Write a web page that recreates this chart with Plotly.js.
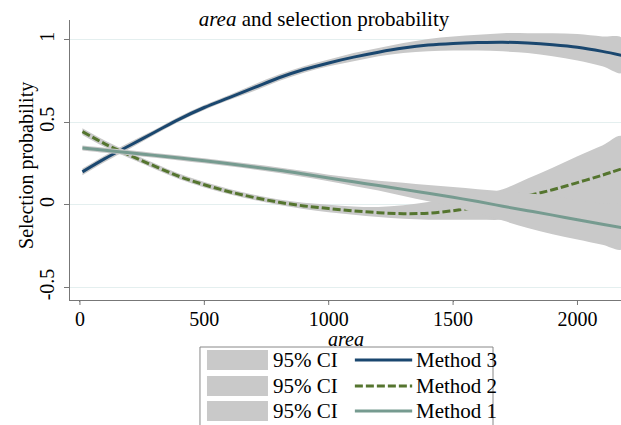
<!DOCTYPE html>
<html>
<head>
<meta charset="utf-8">
<script src="https://cdn.plot.ly/plotly-3.0.1.min.js"></script>
<style>html,body{margin:0;padding:0;background:#fff;}#chart{width:621px;height:425px;}</style>
</head>
<body>
<div id="chart"></div>
<script>
// area values (x)
const area = [10,100,200,300,400,500,600,700,800,900,1000,1100,1200,1300,1400,1500,1600,1700,1800,1900,2000,2100,2180];

// Method 3 fit and 95% CI
const m3   = [0.20,0.28,0.36,0.44,0.52,0.59,0.65,0.71,0.77,0.82,0.86,0.895,0.925,0.95,0.968,0.978,0.983,0.985,0.98,0.97,0.955,0.93,0.905];
const m3lo = [0.18,0.26,0.34,0.425,0.505,0.575,0.635,0.69,0.75,0.80,0.84,0.87,0.90,0.92,0.93,0.935,0.935,0.93,0.92,0.90,0.875,0.84,0.80];
const m3hi = [0.22,0.30,0.38,0.455,0.535,0.605,0.665,0.73,0.79,0.84,0.88,0.92,0.95,0.98,1.005,1.02,1.03,1.04,1.04,1.04,1.035,1.02,1.01];

// Method 2 fit and 95% CI
const m2   = [0.444,0.37,0.30,0.235,0.172,0.122,0.08,0.045,0.016,-0.006,-0.022,-0.036,-0.047,-0.053,-0.05,-0.035,-0.012,0.02,0.055,0.092,0.135,0.18,0.22];
const m2lo = [0.424,0.35,0.282,0.218,0.156,0.106,0.064,0.029,-0.001,-0.025,-0.045,-0.06,-0.074,-0.084,-0.09,-0.09,-0.09,-0.09,-0.08,-0.06,-0.04,-0.025,-0.02];
const m2hi = [0.464,0.39,0.318,0.252,0.188,0.138,0.096,0.061,0.033,0.013,0.001,-0.009,-0.012,-0.002,0.018,0.04,0.06,0.095,0.16,0.225,0.295,0.36,0.415];

// Method 1 fit and 95% CI
const m1   = [0.345,0.331,0.316,0.30,0.284,0.267,0.249,0.23,0.21,0.187,0.163,0.14,0.117,0.094,0.07,0.046,0.02,-0.008,-0.035,-0.062,-0.09,-0.117,-0.138];
const m1lo = [0.33,0.316,0.301,0.285,0.269,0.252,0.234,0.214,0.193,0.169,0.143,0.115,0.087,0.054,0.022,-0.01,-0.05,-0.095,-0.14,-0.177,-0.21,-0.242,-0.268];
const m1hi = [0.36,0.346,0.331,0.315,0.299,0.282,0.264,0.246,0.227,0.205,0.183,0.165,0.147,0.134,0.12,0.108,0.095,0.082,0.07,0.053,0.03,0.008,-0.008];

const xTicks = [0,500,1000,1500,2000];
const yTicks = [-0.5,0,0.5,1];
const yTickText = ['-0.5','0','0.5','1'];
const legendCI = ['95% CI','95% CI','95% CI'];
const legendNames = ['Method 3','Method 2','Method 1'];

const FONT = 'Liberation Serif, Times New Roman, serif';
const CI_COLOR = '#c9c9c9';
const colors = ['#1a476f','#55752f','#769b90'];
const dashes = ['solid','8px,3px','solid'];

function band(lo, hi) {
  return {
    x: area.concat(area.slice().reverse()),
    y: hi.concat(lo.slice().reverse()),
    type: 'scatter', mode: 'lines', fill: 'toself',
    fillcolor: CI_COLOR, line: {width: 0, color: CI_COLOR, shape: 'spline'},
    hoverinfo: 'skip', showlegend: false
  };
}
function fit(y, i) {
  return {
    x: area, y: y, type: 'scatter', mode: 'lines',
    line: {color: colors[i], width: 3, dash: dashes[i], shape: 'spline'},
    showlegend: false, hoverinfo: 'skip'
  };
}

const data = [
  band(m3lo, m3hi), fit(m3, 0),
  band(m2lo, m2hi), fit(m2, 1),
  band(m1lo, m1hi), fit(m1, 2)
];

const shapes = [];
const annotations = [];
// x tick marks (outside, 5px) placed at the tick values through the x scale
xTicks.forEach(function (t) {
  shapes.push({type:'line', xref:'x', yref:'paper', x0:t, x1:t, y0:0, y1:-5/280,
    line:{color:'#777', width:1}});
});
// manual Stata-like legend (paper coordinates)
const rowY = [-0.2143, -0.3071, -0.3964];
shapes.push({type:'rect', xref:'paper', yref:'paper', x0:0.2359, x1:0.7677, y0:-0.50, y1:-0.1679,
  line:{color:'#888', width:1}, fillcolor:'#fff', layer:'below'});
for (let i = 0; i < 3; i++) {
  shapes.push({type:'rect', xref:'paper', yref:'paper', x0:0.2486, x1:0.3593, y0:rowY[i]-0.036, y1:rowY[i]+0.036,
    line:{width:0}, fillcolor:CI_COLOR});
  shapes.push({type:'line', xref:'paper', yref:'paper', x0:0.517, x1:0.621, y0:rowY[i], y1:rowY[i],
    line:{color:colors[i], width:3, dash:dashes[i]}});
  annotations.push({xref:'paper', yref:'paper', x:0.364, y:rowY[i], xanchor:'left', yanchor:'middle',
    text:legendCI[i], showarrow:false, font:{family:FONT, size:21, color:'#000'}});
  annotations.push({xref:'paper', yref:'paper', x:0.624, y:rowY[i], xanchor:'left', yanchor:'middle',
    text:legendNames[i], showarrow:false, font:{family:FONT, size:21, color:'#000'}});
}
// axis titles
annotations.push({xref:'paper', yref:'paper', x:0.5, y:-0.14, xanchor:'center', yanchor:'middle',
  text:'<i>area</i>', showarrow:false, font:{family:FONT, size:20, color:'#000'}});
annotations.push({xref:'paper', yref:'paper', x:-0.08, y:0.482, xanchor:'center', yanchor:'middle',
  text:'Selection probability', textangle:-90, showarrow:false, font:{family:FONT, size:20, color:'#000'}});

const layout = {
  width: 621, height: 425,
  margin: {l:70, r:0, t:20, b:125, pad:0},
  paper_bgcolor:'#fff', plot_bgcolor:'#fff',
  font: {family: FONT, size: 20, color: '#000'},
  title: {text:'<i>area</i> and selection probability', x:(324-70)/551, xref:'paper', xanchor:'center',
    y: 1-19/425, yref:'container', yanchor:'middle', font:{family:FONT, size:21, color:'#000'}},
  xaxis: {range:[-40,2175], tickvals:xTicks, ticks:'outside', ticklen:1, tickcolor:'#777',
    showline:true, linecolor:'#777', linewidth:1, showgrid:false, zeroline:false,
    tickfont:{family:FONT, size:20, color:'#000'}},
  yaxis: {range:[-0.576,1.12], tickvals:yTicks, ticktext:yTickText, tickangle:-90, ticks:'outside', ticklen:5,
    tickcolor:'#777', showline:true, linecolor:'#777', linewidth:1, showgrid:true, gridcolor:'#e4efef',
    gridwidth:1, zeroline:false, ticklabelstandoff:2, tickfont:{family:FONT, size:20, color:'#000'}},
  shapes: shapes,
  annotations: annotations,
  showlegend: false
};

Plotly.newPlot('chart', data, layout, {staticPlot:true, displayModeBar:false});
</script>
</body>
</html>
